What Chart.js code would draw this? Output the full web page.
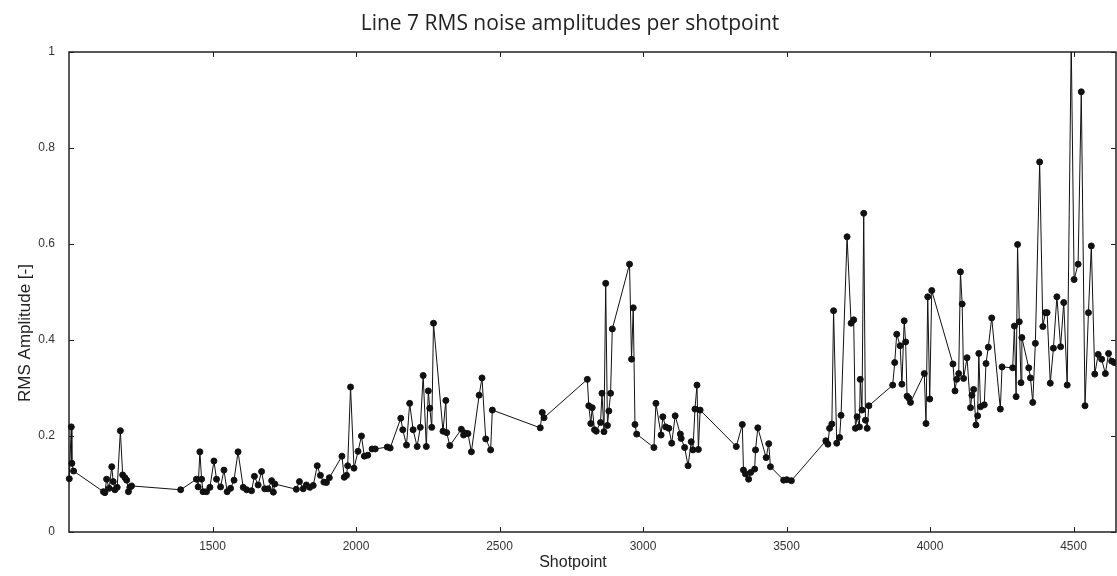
<!DOCTYPE html>
<html>
<head>
<meta charset="utf-8">
<title>Line 7 RMS noise</title>
<script src="https://cdn.jsdelivr.net/npm/chart.js@4/dist/chart.umd.min.js"></script>
<style>
  body { margin: 0; background: #fff; }
  canvas { display: block; }
</style>
</head>
<body>
<canvas id="rmsChart" width="1117" height="576"></canvas>
<script>
const chartTitle = "Line 7 RMS noise amplitudes per shotpoint";
const xTitle = "Shotpoint";
const yTitle = "RMS Amplitude [-]";

const xTicks = [1500, 2000, 2500, 3000, 3500, 4000, 4500];
const yTicks = [0, 0.2, 0.4, 0.6, 0.8, 1];

const shotpoints = [
    1001, 1008, 1010, 1016, 1120, 1125, 1131, 1140, 1149, 1154,
    1160, 1168, 1179, 1187, 1195, 1201, 1207, 1212, 1218, 1389,
    1444, 1450, 1456, 1462, 1467, 1479, 1491, 1505, 1514, 1528,
    1540, 1551, 1563, 1575, 1589, 1607, 1619, 1636, 1646, 1659,
    1671, 1682, 1694, 1706, 1712, 1717, 1792, 1803, 1816, 1827,
    1839, 1851, 1865, 1876, 1888, 1897, 1907, 1951, 1959, 1967,
    1971, 1981, 1993, 2007, 2019, 2029, 2041, 2056, 2067, 2109,
    2119, 2156, 2163, 2176, 2187, 2199, 2213, 2224, 2234, 2245,
    2252, 2257, 2264, 2270, 2303, 2313, 2316, 2327, 2367, 2375,
    2381, 2390, 2402, 2429, 2439, 2452, 2469, 2475, 2642, 2649,
    2655, 2806, 2811, 2818, 2823, 2831, 2837, 2852, 2857, 2864,
    2870, 2876, 2881, 2887, 2893, 2953, 2960, 2966, 2972, 2978,
    3038, 3045, 3063, 3069, 3079, 3090, 3100, 3112, 3130, 3133,
    3145, 3157, 3168, 3174, 3181, 3188, 3193, 3199, 3325, 3346,
    3350, 3357, 3368, 3375, 3389, 3392, 3400, 3429, 3438, 3444,
    3490, 3501, 3517, 3637, 3644, 3650, 3658, 3664, 3675, 3685,
    3690, 3711, 3725, 3734, 3740, 3746, 3754, 3757, 3763, 3769,
    3775, 3781, 3787, 3870, 3877, 3884, 3896, 3902, 3910, 3915,
    3920, 3926, 3932, 3980, 3986, 3992, 3999, 4006, 4080, 4087,
    4093, 4100, 4106, 4112, 4117, 4129, 4141, 4146, 4152, 4160,
    4166, 4170, 4176, 4189, 4195, 4203, 4215, 4245, 4251, 4288,
    4294, 4300, 4305, 4311, 4317, 4320, 4344, 4350, 4358, 4367,
    4382, 4393, 4402, 4408, 4419, 4430, 4442, 4455, 4466, 4478,
    4492, 4502, 4516, 4527, 4540, 4552, 4562, 4574, 4586, 4598,
    4611, 4622, 4633, 4642
];

const rmsAmp = [
    0.111, 0.219, 0.143, 0.127, 0.084, 0.082, 0.110, 0.091, 0.136, 0.105,
    0.088, 0.093, 0.211, 0.119, 0.113, 0.108, 0.084, 0.093, 0.096, 0.088,
    0.110, 0.094, 0.167, 0.110, 0.084, 0.084, 0.093, 0.148, 0.110, 0.094,
    0.129, 0.084, 0.091, 0.108, 0.167, 0.093, 0.088, 0.086, 0.116, 0.098,
    0.126, 0.090, 0.090, 0.107, 0.083, 0.100, 0.089, 0.105, 0.090, 0.098,
    0.093, 0.097, 0.138, 0.118, 0.104, 0.103, 0.113, 0.158, 0.114, 0.118,
    0.138, 0.302, 0.133, 0.168, 0.200, 0.158, 0.160, 0.173, 0.173, 0.177,
    0.175, 0.237, 0.213, 0.181, 0.268, 0.213, 0.178, 0.218, 0.326, 0.178,
    0.294, 0.258, 0.218, 0.435, 0.210, 0.274, 0.207, 0.180, 0.214, 0.202,
    0.206, 0.205, 0.167, 0.285, 0.321, 0.194, 0.171, 0.254, 0.217, 0.249,
    0.238, 0.318, 0.263, 0.226, 0.259, 0.213, 0.210, 0.228, 0.289, 0.209,
    0.518, 0.222, 0.252, 0.289, 0.423, 0.558, 0.360, 0.467, 0.224, 0.204,
    0.176, 0.268, 0.202, 0.240, 0.219, 0.216, 0.185, 0.242, 0.204, 0.195,
    0.176, 0.138, 0.188, 0.171, 0.256, 0.306, 0.172, 0.254, 0.178, 0.224,
    0.129, 0.121, 0.110, 0.124, 0.131, 0.171, 0.217, 0.155, 0.184, 0.136,
    0.108, 0.109, 0.107, 0.190, 0.183, 0.216, 0.225, 0.461, 0.185, 0.197,
    0.243, 0.615, 0.435, 0.442, 0.216, 0.240, 0.219, 0.318, 0.254, 0.664,
    0.233, 0.216, 0.263, 0.306, 0.353, 0.412, 0.388, 0.308, 0.440, 0.396,
    0.283, 0.279, 0.270, 0.330, 0.226, 0.490, 0.277, 0.503, 0.350, 0.294,
    0.318, 0.330, 0.542, 0.475, 0.320, 0.363, 0.259, 0.285, 0.297, 0.223,
    0.242, 0.372, 0.261, 0.265, 0.351, 0.385, 0.446, 0.256, 0.344, 0.342,
    0.429, 0.282, 0.599, 0.438, 0.311, 0.405, 0.342, 0.321, 0.270, 0.393,
    0.771, 0.428, 0.457, 0.457, 0.310, 0.383, 0.490, 0.386, 0.478, 0.306,
    1.02, 0.526, 0.558, 0.917, 0.263, 0.457, 0.596, 0.329, 0.370, 0.360,
    0.330, 0.372, 0.356, 0.353
];

document.addEventListener("DOMContentLoaded", function () {
    const tickFont = { family: "'Liberation Sans', Arial, sans-serif", size: 12 };

    // box around the plot, inward tick marks and the text labels
    const frameAndText = {
        id: "frameAndText",
        beforeDatasetsDraw(chart) {
            const { ctx, chartArea: a, scales } = chart;
            ctx.save();
            ctx.strokeStyle = "#222";
            ctx.lineWidth = 1.5;
            ctx.strokeRect(a.left, a.top, a.right - a.left, a.bottom - a.top);

            ctx.lineWidth = 1;
            ctx.beginPath();
            xTicks.forEach(v => {
                const px = Math.round(scales.x.getPixelForValue(v)) + 0.5;
                ctx.moveTo(px, a.bottom); ctx.lineTo(px, a.bottom - 5);
                ctx.moveTo(px, a.top); ctx.lineTo(px, a.top + 5);
            });
            yTicks.forEach(v => {
                const py = Math.round(scales.y.getPixelForValue(v)) + 0.5;
                ctx.moveTo(a.left, py); ctx.lineTo(a.left + 5, py);
                ctx.moveTo(a.right, py); ctx.lineTo(a.right - 5, py);
            });
            ctx.stroke();
            ctx.restore();
        },
        afterDraw(chart) {
            const { ctx } = chart;
            ctx.save();
            ctx.fillStyle = "#222";
            ctx.textAlign = "center";

            ctx.font = "21px 'Open Sans'";
            ctx.textBaseline = "alphabetic";
            ctx.fillText(chartTitle, 570, 30);

            ctx.font = "16px 'Liberation Sans'";
            ctx.textBaseline = "middle";
            ctx.fillText(xTitle, 573, 563);

            ctx.translate(25, 333);
            ctx.rotate(-Math.PI / 2);
            ctx.font = "17px 'Liberation Sans'";
            ctx.fillText(yTitle, 0, 0);
            ctx.restore();
        }
    };

    const points = shotpoints.map((s, i) => ({ x: s, y: rmsAmp[i] }));

    const ctx = document.getElementById("rmsChart").getContext("2d");
    new Chart(ctx, {
        type: "scatter",
        data: {
            datasets: [{
                data: points,
                showLine: true,
                borderColor: "#111",
                borderWidth: 1,
                pointRadius: 3,
                pointBorderWidth: 1,
                pointBackgroundColor: "#111",
                pointBorderColor: "#111",
                clip: { left: 5, top: 0, right: 0, bottom: 5 }
            }]
        },
        options: {
            responsive: false,
            animation: false,
            layout: {
                autoPadding: false,
                padding: { top: 52, right: 1, bottom: 0, left: 0 }
            },
            plugins: {
                legend: { display: false },
                tooltip: { enabled: false },
                title: { display: false }
            },
            scales: {
                x: {
                    type: "linear",
                    min: 1000,
                    max: 4648,
                    grid: { display: false, drawTicks: false },
                    border: { display: false },
                    ticks: { font: tickFont, color: "#333", padding: 7, callback: v => String(v) },
                    afterBuildTicks: scale => { scale.ticks = xTicks.map(v => ({ value: v })); },
                    afterFit: scale => {
                        scale.height = 44;
                        scale.paddingLeft = 0;
                        scale.paddingRight = 0;
                    }
                },
                y: {
                    min: 0,
                    max: 1,
                    grid: { display: false, drawTicks: false },
                    border: { display: false },
                    ticks: { font: tickFont, color: "#333", padding: 14, callback: v => String(v) },
                    afterBuildTicks: scale => { scale.ticks = yTicks.map(v => ({ value: v })); },
                    afterFit: scale => { scale.width = 69; }
                }
            }
        },
        plugins: [frameAndText]
    });
});
</script>
</body>
</html>
